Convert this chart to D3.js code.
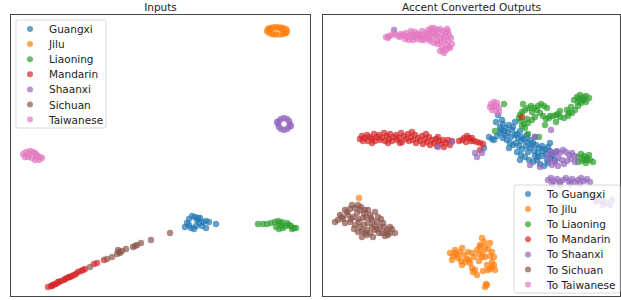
<!DOCTYPE html>
<html>
<head>
<meta charset="utf-8">
<script src="https://cdn.jsdelivr.net/npm/d3@7"></script>
<style>
  body { margin: 0; background: #fff; }
  text { font-family: "DejaVu Sans", sans-serif; fill: #222; }
</style>
</head>
<body>
<div id="chart"></div>
<script>
// Categories and colours (tab10)
const accents = ["Guangxi", "Jilu", "Liaoning", "Mandarin", "Shaanxi", "Sichuan", "Taiwanese"];
const colors = ["#1f77b4", "#ff7f0e", "#2ca02c", "#d62728", "#9467bd", "#8c564b", "#e377c2"];

// Embedding coordinates (arbitrary t-SNE units)
const inGuangxi = [[175,70],[177,74],[179,78],[182,81],[185,80],[187,77],[189,74],[186,71],[184,68],[181,69],[190,79],[193,75],[196,76],[199,75],[196,69],[192,71],[206,73],[179,72],[188,79]];
const inJilu = [[257,266],[258,268],[260,269],[263,269.5],[266,270],[270,269.5],[273,269],[276,268],[277,266],[276,264],[273,263],[270,262.5],[266,262.5],[262,263],[259,264],[261,268],[268,269],[275,264],[264,263],[272,268]];
const inLiaoning = [[248,73],[253,73],[257,73],[261,74],[265,75],[268,76],[270,74],[272,75],[266,70],[269,68],[273,69],[277,74],[279,72],[281,71],[282,68],[284,69],[286,69],[276,71],[271,71]];
const inMandarin = [[38,10],[41,11],[43,12],[46,13],[48,15],[55,18],[57,19],[60,20],[66,23],[68,25],[71,26],[84,33],[87,34],[94,37],[42,11],[45,13],[49,15],[51,16],[54,17],[59,20],[62,21],[64,22],[73,27],[75,28]];
const inShaanxi = [[280,173],[279,176],[277,178],[274,179],[271,178],[269,176],[268,173],[269,170],[271,168],[274,167],[277,168],[279,170],[281,171],[267,175]];
const inSichuan = [[80,30],[97,38],[102,40],[107,43],[109,45],[112,46],[116,48],[123,50],[127,52],[131,54],[141,57],[160,64],[108,47],[110,44],[125,51]];
const inTaiwanese = [[13,143],[16,145],[20,146],[23,145],[25,144],[27,142],[30,140],[32,139],[29,137],[25,137],[22,139],[18,140],[15,140],[19,143],[26,140]];

const outGuangxi = [[176,182],[174,175],[178,170],[181,173],[184,169],[187,172],[190,167],[186,164],[182,166],[178,164],[175,161],[172,157],[181,159],[185,157],[189,160],[193,162],[196,159],[199,156],[202,158],[205,155],[208,157],[211,154],[214,152],[217,149],[220,151],[223,148],[226,150],[228,146],[224,143],[220,141],[216,144],[212,146],[208,149],[204,151],[200,148],[197,151],[194,154],[191,152],[188,154],[195,145],[199,142],[203,140],[207,137],[211,135],[215,137],[218,133],[222,131],[226,134],[229,139],[233,137],[191,170],[198,166],[205,162],[213,160],[167,160],[162,149],[193,175],[228,154],[234,145],[198,137],[187,149],[180,177],[183,162],[200,160],[210,152],[216,140],[221,146],[230,142],[225,137],[213,141],[206,145],[195,163],[179,167],[170,158]];
const outJilu = [[37,99],[128,44],[133,47],[140,49],[130,37],[136,39],[143,35],[150,44],[148,34],[155,47],[160,59],[158,52],[163,50],[168,54],[170,45],[163,40],[165,32],[170,30],[173,27],[166,27],[151,25],[155,22],[150,29],[163,10],[165,12],[140,32],[135,42],[160,40],[170,35],[161,45],[146,45],[131,41],[138,45],[142,42],[145,38],[152,40],[157,43],[162,55],[166,48],[168,41],[172,32],[168,28],[153,27],[147,37],[139,36],[133,44],[157,36],[161,26],[172,40],[164,13],[158,50]];
const outLiaoning = [[252,197],[255,200],[258,202],[261,200],[264,201],[267,199],[262,197],[256,195],[259,194],[264,195],[256,191],[253,187],[250,184],[246,181],[242,179],[238,180],[234,182],[231,181],[227,179],[224,178],[221,181],[218,184],[215,187],[212,189],[209,191],[206,189],[203,187],[200,185],[198,182],[197,179],[199,176],[202,173],[206,174],[210,177],[213,180],[219,193],[222,191],[225,189],[216,191],[238,186],[245,187],[249,190],[234,175],[223,172],[201,193],[182,193],[206,163],[203,169],[217,160],[256,140],[259,143],[262,141],[265,139],[268,137],[271,135],[264,134],[260,136],[256,135],[267,142],[173,166],[257,198],[260,197],[247,184],[236,183],[228,181],[210,185],[205,178],[200,171],[265,137],[262,138]];
const outMandarin = [[38,158],[40,161],[41,156],[43,159],[45,162],[46,156],[48,160],[50,158],[52,163],[53,156],[55,160],[57,162],[58,157],[60,159],[62,164],[63,156],[65,161],[67,158],[68,163],[70,156],[72,160],[74,162],[75,157],[77,159],[79,164],[80,155],[82,161],[84,158],[86,163],[87,156],[89,160],[91,157],[93,162],[94,154],[96,159],[98,156],[100,161],[101,153],[103,158],[105,155],[107,160],[108,152],[110,157],[112,154],[114,158],[115,151],[117,156],[119,153],[121,157],[122,150],[124,154],[126,157],[128,152],[130,156],[50,154],[66,154],[78,154],[90,165],[104,163],[116,160],[137,156],[140,157],[142,159],[145,161],[147,159],[149,156],[152,156],[155,155],[158,154],[161,153],[144,155],[150,159],[158,147],[200,180]];
const outShaanxi = [[226,142],[229,145],[232,143],[235,146],[238,144],[241,147],[244,145],[247,142],[250,144],[253,141],[249,138],[245,136],[240,137],[236,139],[233,135],[230,132],[236,131],[242,133],[227,137],[253,135],[226,117],[229,119],[232,116],[235,118],[238,115],[241,117],[244,119],[247,116],[250,118],[253,115],[256,117],[259,119],[262,116],[265,118],[268,115],[230,113],[238,112],[248,113],[258,113],[229,167],[213,160],[208,132],[218,130],[153,144],[160,144],[155,140],[116,150],[130,155],[72,267],[268,102],[272,100],[276,98],[280,96],[284,94],[288,92],[274,95],[281,92],[263,104],[290,97]];
const outSichuan = [[13,75],[18,82],[23,87],[30,92],[36,92],[43,87],[53,85],[56,80],[61,74],[68,70],[73,64],[66,62],[60,64],[53,67],[45,62],[40,60],[36,65],[33,72],[28,75],[23,74],[46,74],[50,77],[41,79],[35,84],[26,82],[55,75],[45,67],[65,67],[70,68],[48,82],[16,77],[38,70],[51,60],[46,87],[63,61],[20,80],[25,85],[28,88],[33,89],[39,90],[42,84],[38,87],[31,80],[36,78],[44,80],[49,79],[52,72],[58,70],[62,70],[64,64],[57,64],[48,64],[43,64],[40,66],[32,68],[29,78],[21,78],[55,68],[68,64],[50,70],[42,72],[37,75],[59,78]];
const outTaiwanese = [[64,260],[67,261],[70,262],[73,263],[81,262],[84,264],[87,261],[90,263],[93,265],[96,263],[98,260],[101,262],[104,264],[106,267],[109,269],[112,269],[115,267],[118,268],[121,266],[124,264],[127,262],[129,259],[126,256],[122,257],[118,259],[114,261],[110,260],[107,258],[103,259],[99,257],[95,258],[91,257],[87,257],[83,258],[78,260],[116,253],[120,250],[124,247],[128,249],[130,253],[112,254],[118,246],[122,244],[108,263],[112,265],[125,268],[89,266],[100,266],[85,260],[92,260],[97,262],[105,262],[110,266],[115,263],[120,262],[123,260],[119,255],[124,252],[127,250],[121,247],[115,256],[108,256],[102,257],[94,262],[79,263],[76,261],[66,259],[126,266],[169,193],[172,195],[175,194],[171,190],[174,191],[177,189],[170,187],[174,186],[177,185],[168,190]];

const inputSeries = [inGuangxi, inJilu, inLiaoning, inMandarin, inShaanxi, inSichuan, inTaiwanese];
const outputSeries = [outGuangxi, outJilu, outLiaoning, outMandarin, outShaanxi, outSichuan, outTaiwanese];

const width = 621;
const height = 300;

const svg = d3.select("#chart")
    .append("svg")
    .attr("width", width)
    .attr("height", height);

function drawPanel(opts) {
    const x = d3.scaleLinear().domain([0, opts.xMax]).range([opts.left, opts.right]);
    const y = d3.scaleLinear().domain([0, 283]).range([297, 14]);

    const g = svg.append("g");

    g.append("text")
        .attr("x", (opts.left + opts.right) / 2)
        .attr("y", 11)
        .attr("text-anchor", "middle")
        .style("font-size", "10.5px")
        .text(opts.title);

    const clipId = "clip-" + opts.left;
    svg.append("clipPath").attr("id", clipId)
        .append("rect")
        .attr("x", opts.left).attr("y", 14)
        .attr("width", opts.right - opts.left).attr("height", 283);

    const pts = g.append("g").attr("clip-path", `url(#${clipId})`);

    opts.series.forEach((data, i) => {
        pts.append("g")
            .selectAll("circle")
            .data(data)
            .join("circle")
            .attr("cx", d => x(d[0]))
            .attr("cy", d => y(d[1]))
            .attr("r", 3.2)
            .attr("fill", colors[i])
            .attr("fill-opacity", 0.7);
    });

    g.append("rect")
        .attr("x", opts.left + 0.5)
        .attr("y", 14.5)
        .attr("width", opts.right - opts.left - 1)
        .attr("height", 282)
        .attr("fill", "none")
        .attr("stroke", "#333")
        .attr("stroke-width", 0.9);

    // Legend
    const lg = g.append("g").attr("transform", `translate(${opts.legend.x}, ${opts.legend.y})`);
    lg.append("rect")
        .attr("width", opts.legend.w)
        .attr("height", 108)
        .attr("rx", 2)
        .attr("fill", "#fff")
        .attr("fill-opacity", 0.8)
        .attr("stroke", "#d0d0d0")
        .attr("stroke-width", 0.8);

    const rows = lg.selectAll("g.row")
        .data(accents)
        .join("g")
        .attr("class", "row")
        .attr("transform", (d, i) => `translate(0, ${9 + i * 15.1})`);

    rows.append("circle")
        .attr("cx", 14)
        .attr("cy", 0)
        .attr("r", 3)
        .attr("fill", (d, i) => colors[i])
        .attr("fill-opacity", 0.7);

    rows.append("text")
        .attr("x", 33)
        .attr("y", 4)
        .style("font-size", "10.5px")
        .text(d => opts.prefix + d);
}

drawPanel({
    title: "Inputs",
    left: 10, right: 311, xMax: 301,
    series: inputSeries,
    prefix: "",
    legend: { x: 16, y: 20, w: 90 }
});

drawPanel({
    title: "Accent Converted Outputs",
    left: 322, right: 621, xMax: 299,
    series: outputSeries,
    prefix: "To ",
    legend: { x: 514, y: 185, w: 106 }
});
</script>
</body>
</html>
